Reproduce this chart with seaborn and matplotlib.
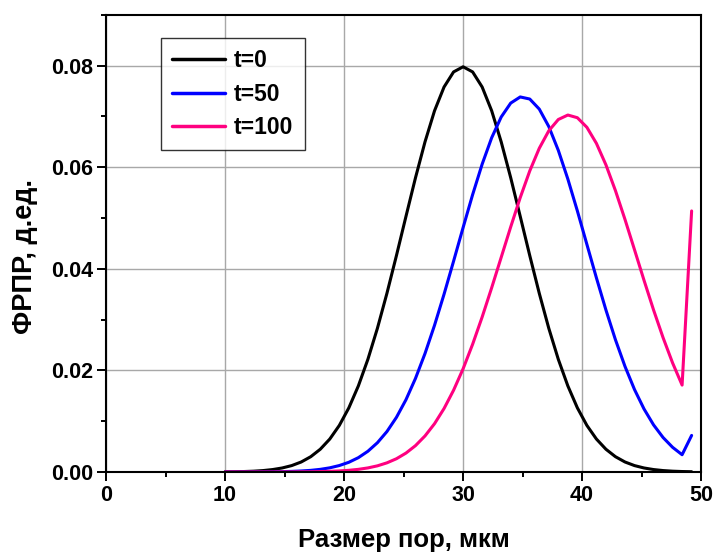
import numpy as np
import pandas as pd
import matplotlib
matplotlib.use("Agg")
import matplotlib.pyplot as plt
from matplotlib.ticker import MultipleLocator, FormatStrFormatter
import seaborn as sns

# pore size grid, um
pore_size = [10.0, 10.8, 11.6, 12.4, 13.2, 14.0, 14.8, 15.6, 16.4, 17.2,
             18.0, 18.8, 19.6, 20.4, 21.2, 22.0, 22.8, 23.6, 24.4, 25.2,
             26.0, 26.8, 27.6, 28.4, 29.2, 30.0, 30.8, 31.6, 32.4, 33.2,
             34.0, 34.8, 35.6, 36.4, 37.2, 38.0, 38.8, 39.6, 40.4, 41.2,
             42.0, 42.8, 43.6, 44.4, 45.2, 46.0, 46.8, 47.6, 48.4, 49.2]

# distribution values
t0 = [0.00003, 0.00005, 0.00009, 0.00016, 0.00028, 0.00048, 0.00079, 0.00126, 0.00197, 0.00301,
      0.00448, 0.00649, 0.00917, 0.01263, 0.01695, 0.02218, 0.02829, 0.03518, 0.04262, 0.05033,
      0.05794, 0.06501, 0.07113, 0.07581, 0.07878, 0.07979, 0.07878, 0.07581, 0.07113, 0.06501,
      0.05794, 0.05033, 0.04262, 0.03518, 0.02829, 0.02218, 0.01695, 0.01263, 0.00917, 0.00649,
      0.00448, 0.00301, 0.00197, 0.00126, 0.00079, 0.00048, 0.00028, 0.00016, 0.00009, 0.00005]

t50 = [0.00000, 0.00000, 0.00001, 0.00001, 0.00002, 0.00004, 0.00007, 0.00012, 0.00020, 0.00032,
       0.00052, 0.00082, 0.00127, 0.00191, 0.00282, 0.00408, 0.00576, 0.00796, 0.01076, 0.01423,
       0.01843, 0.02333, 0.02889, 0.03501, 0.04151, 0.04813, 0.05461, 0.06061, 0.06581, 0.06990,
       0.07264, 0.07385, 0.07344, 0.07146, 0.06802, 0.06333, 0.05769, 0.05141, 0.04482, 0.03823,
       0.03190, 0.02604, 0.02080, 0.01624, 0.01241, 0.00928, 0.00679, 0.00486, 0.00340, 0.00720]

t100 = [0.00000, 0.00000, 0.00000, 0.00000, 0.00000, 0.00000, 0.00001, 0.00001, 0.00003, 0.00004,
        0.00008, 0.00013, 0.00021, 0.00033, 0.00052, 0.00080, 0.00121, 0.00180, 0.00261, 0.00372,
        0.00519, 0.00710, 0.00951, 0.01250, 0.01610, 0.02032, 0.02515, 0.03051, 0.03627, 0.04226,
        0.04826, 0.05403, 0.05928, 0.06374, 0.06719, 0.06941, 0.07029, 0.06976, 0.06787, 0.06471,
        0.06048, 0.05540, 0.04974, 0.04377, 0.03775, 0.03192, 0.02646, 0.02148, 0.01711, 0.05140]

labels = ["t=0", "t=50", "t=100"]
colors = ["#000000", "#0000FF", "#FF0080"]

df = pd.DataFrame({
    "size": pore_size * 3,
    "value": t0 + t50 + t100,
    "series": [labels[0]] * len(t0) + [labels[1]] * len(t50) + [labels[2]] * len(t100),
})

sns.set_style("white")
plt.rcParams["font.family"] = ["Liberation Sans", "DejaVu Sans"]
plt.rcParams["font.weight"] = "bold"
for k in ["text.color", "axes.labelcolor", "xtick.color", "ytick.color"]:
    plt.rcParams[k] = "black"

fig = plt.figure(figsize=(7.14, 5.53), dpi=100)
ax = fig.add_axes([0.1485, 0.1465, 0.8335, 0.8265])

sns.lineplot(data=df, x="size", y="value", hue="series", hue_order=labels,
             palette=colors, linewidth=2.2, sort=False, errorbar=None, ax=ax)

ax.set_xlim(0, 50)
ax.set_ylim(0, 0.09)
ax.xaxis.set_major_locator(MultipleLocator(10))
ax.xaxis.set_minor_locator(MultipleLocator(5))
ax.yaxis.set_major_locator(MultipleLocator(0.02))
ax.yaxis.set_minor_locator(MultipleLocator(0.01))
ax.yaxis.set_major_formatter(FormatStrFormatter("%.2f"))

ax.grid(True, which="major", color="#a8a8a8", linewidth=1.0)
ax.set_axisbelow(True)

for s in ax.spines.values():
    s.set_color("black")
    s.set_linewidth(1.5)

ax.tick_params(which="major", direction="out", length=6.5, width=1.4,
               labelsize=15.5, pad=3, top=False, right=False, bottom=True, left=True)
ax.tick_params(which="minor", direction="out", length=3.5, width=1.4,
               top=False, right=False, bottom=True, left=True)
for lab in ax.get_xticklabels() + ax.get_yticklabels():
    lab.set_fontweight("bold")

ax.set_xlabel("Размер пор, мкм", fontsize=18.5, fontweight="bold", labelpad=15.5)
ax.set_ylabel("ФРПР, д.ед.", fontsize=19.5, fontweight="bold")
ax.yaxis.set_label_coords(-0.114, 0.471)

leg = ax.legend(loc="upper left", bbox_to_anchor=(0.092, 0.95), borderaxespad=0,
                fontsize=16.5, frameon=True, fancybox=False, handlelength=2.3,
                handletextpad=0.4, labelspacing=0.45, borderpad=0.5)
leg.get_frame().set_edgecolor("black")
leg.get_frame().set_linewidth(1.0)
for line in leg.get_lines():
    line.set_linewidth(2.5)
for txt in leg.get_texts():
    txt.set_fontweight("bold")

fig.savefig("out.png", dpi=100)
